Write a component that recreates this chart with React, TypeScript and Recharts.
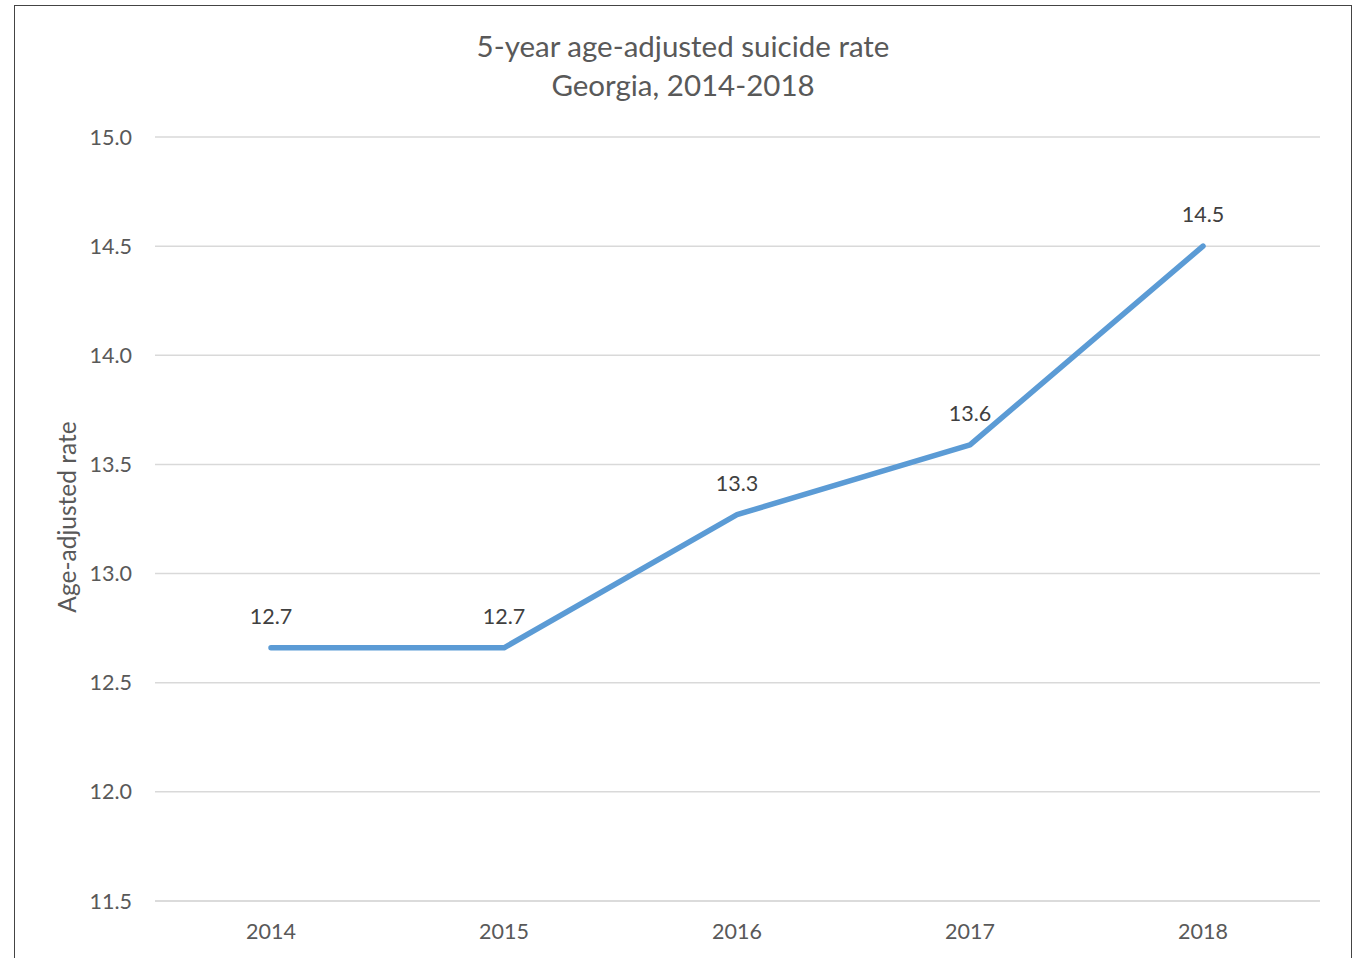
import React from 'react';
import { LineChart, Line, XAxis, YAxis, CartesianGrid, LabelList } from 'recharts';

const years = ['2014', '2015', '2016', '2017', '2018'];
const rates = [12.66, 12.66, 13.27, 13.59, 14.5];
const yTicks = [11.5, 12.0, 12.5, 13.0, 13.5, 14.0, 14.5, 15.0];

const data = years.map((y, i) => ({ year: y, rate: rates[i] }));

const FONT = 'Lato, "Open Sans", sans-serif';
const BOX_W = 1338;
const BOX_H = 990;

export default function App() {
  return (
    <div style={{ position: 'absolute', left: 0, top: 0, width: 1363, height: 958, overflow: 'hidden', background: '#fff' }}>
      <div
        style={{
          position: 'absolute',
          left: 14,
          top: 5,
          width: BOX_W,
          height: BOX_H,
          border: '1.5px solid #444',
          boxSizing: 'border-box',
          fontFamily: FONT,
        }}
      >
        <div
          style={{
            position: 'absolute',
            left: 0,
            width: '100%',
            top: 20,
            textAlign: 'center',
            color: '#595959',
            fontSize: 29.5,
            lineHeight: '39px',
          }}
        >
          <div>5-year age-adjusted suicide rate</div>
          <div>Georgia, 2014-2018</div>
        </div>
        <div
          style={{
            position: 'absolute',
            left: 51,
            top: 511,
            transform: 'translate(-50%, -50%) rotate(-90deg)',
            color: '#595959',
            fontSize: 24.5,
            whiteSpace: 'nowrap',
          }}
        >
          Age-adjusted rate
        </div>
        <div style={{ position: 'absolute', left: 0, top: 0 }}>
          <LineChart
            width={BOX_W - 2}
            height={BOX_H - 2}
            data={data}
            margin={{ top: 131, right: 31, left: 0, bottom: 43 }}
          >
            <CartesianGrid vertical={false} stroke="#d9d9d9" strokeWidth={1.5} />
            <XAxis
              dataKey="year"
              axisLine={{ stroke: '#d9d9d9', strokeWidth: 1.5 }}
              tickLine={false}
              tickSize={0}
              tickMargin={23}
              height={50}
              padding={{ left: 116, right: 117 }}
              tick={{ fill: '#595959', fontSize: 21.5, fontFamily: FONT }}
            />
            <YAxis
              domain={[11.5, 15]}
              ticks={yTicks}
              tickFormatter={(v: number) => v.toFixed(1)}
              axisLine={false}
              tickLine={false}
              tickSize={0}
              tickMargin={23}
              width={140}
              tick={{ fill: '#595959', fontSize: 21.5, fontFamily: FONT }}
            />
            <Line
              type="linear"
              dataKey="rate"
              stroke="#5B9BD5"
              strokeWidth={5.5}
              strokeLinecap="round"
              strokeLinejoin="round"
              dot={false}
              isAnimationActive={false}
            >
              <LabelList
                dataKey="rate"
                position="top"
                offset={24}
                formatter={(v: number) => v.toFixed(1)}
                style={{ fill: '#404040', fontSize: 21.5, fontFamily: FONT }}
              />
            </Line>
          </LineChart>
        </div>
      </div>
    </div>
  );
}
